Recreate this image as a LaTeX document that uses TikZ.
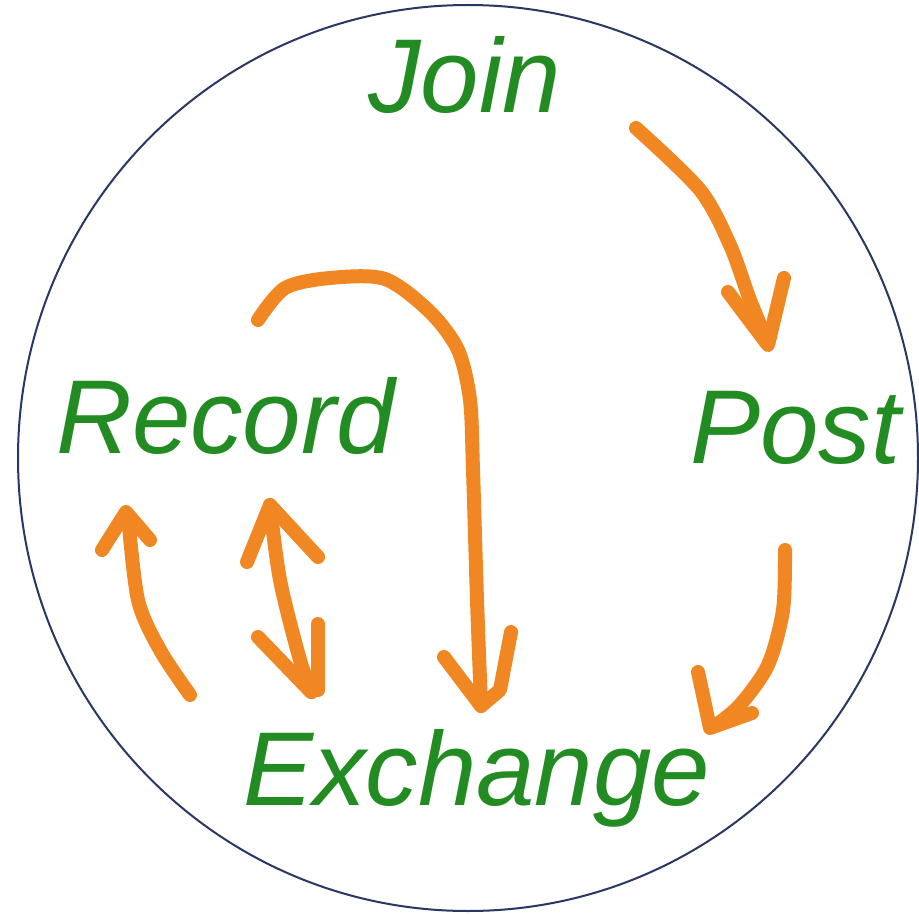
\documentclass[tikz,border=0pt]{standalone}
\usepackage{fontspec}
\setmainfont{Liberation Sans}
\definecolor{lblgreen}{RGB}{34,139,34}
\definecolor{penorange}{RGB}{240,135,35}
\definecolor{rimnavy}{RGB}{40,55,100}
\begin{document}
\begin{tikzpicture}[x=1pt,y=-1pt,
  lbl/.style={text=lblgreen,inner sep=0pt,anchor=base west,font=\fontsize{105}{105}\selectfont\itshape},
  pen/.style={draw=penorange,line width=14pt,line cap=round,line join=round}]
\useasboundingbox (0,0) rectangle (919,915);
\fill[white] (0,0) rectangle (919,915);
\draw[rimnavy,line width=2pt] (468,458) ellipse [x radius=450pt, y radius=453pt];
\node[lbl] (join) at (368,113) {Join};
\node[lbl] (record) at (56,453) {Record};
\node[lbl] (post) at (690,463) {Post};
\node[lbl] (exchange) at (243,805) {Exchange};
% Join -> Post
\draw[pen] plot[smooth] coordinates {(636,128) (700,190) (730,245) (750,300) (768,343)};
\draw[pen] (728,292) -- (768,345) -- (784,278);
% Record loop -> Exchange
\draw[pen] plot[smooth] coordinates {(258,320) (285,288) (330,278) (385,279) (430,312) (458,350) (470,400) (473,470) (477,600) (481,705)};
\draw[pen] (444,657) -- (481,706);
\draw[pen] (511,632) -- (500,690) -- (481,706);
% Post -> Exchange
\draw[pen] plot[smooth] coordinates {(785,550) (783,610) (768,665) (740,705) (716,725)};
\draw[pen] (698,672) -- (710,728) -- (752,713);
% Exchange -> Record (left)
\draw[pen] plot[smooth] coordinates {(190,695) (160,650) (138,600) (128,515)};
\draw[pen] (102,550) -- (126,512) -- (150,540);
% double arrow
\draw[pen] plot[smooth] coordinates {(270,505) (280,580) (300,660) (312,692)};
\draw[pen] (247,562) -- (270,505) -- (318,557);
\draw[pen] (258,637) -- (311,692);
\draw[pen] (318,624) -- (318,690);
\end{tikzpicture}
\end{document}
